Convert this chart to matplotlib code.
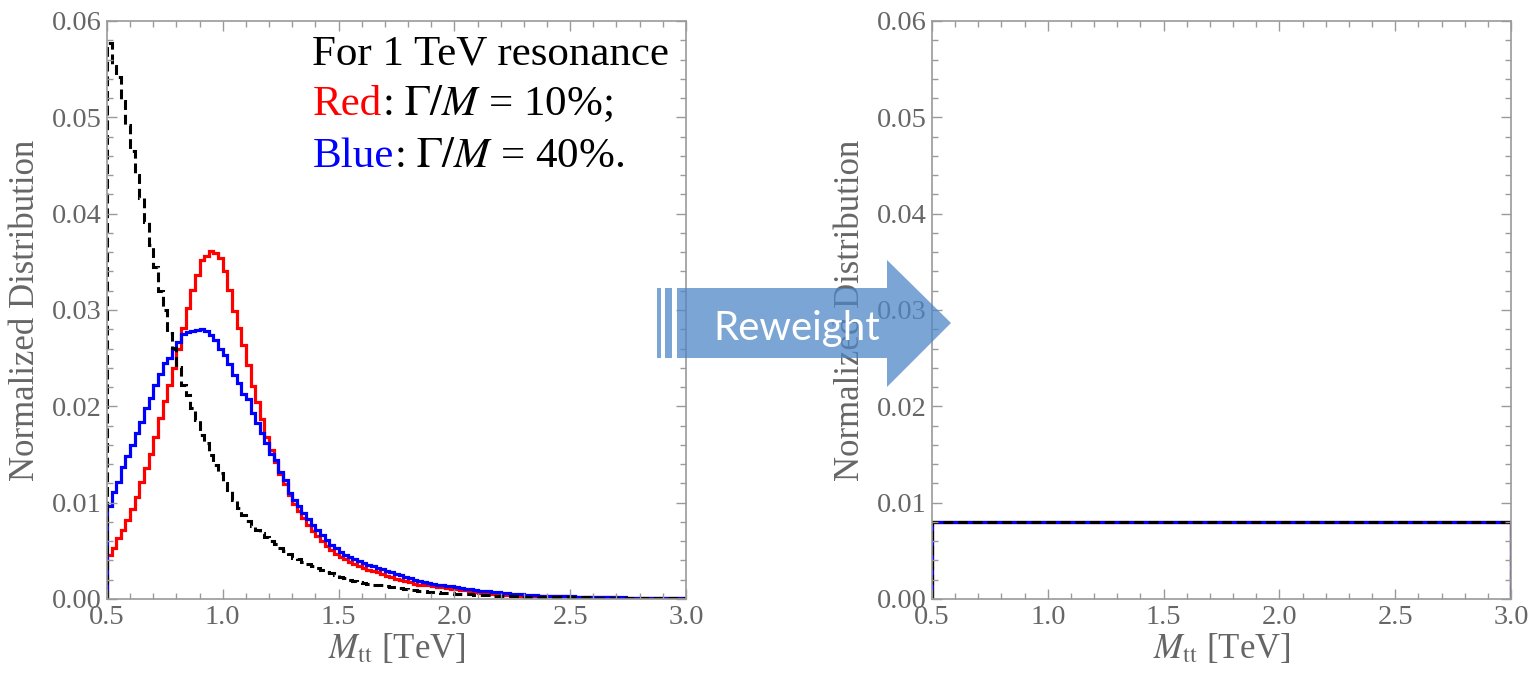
import numpy as np
import matplotlib.pyplot as plt
from matplotlib.patches import Polygon, Rectangle
from matplotlib.ticker import MultipleLocator, FormatStrFormatter

plt.rcParams['font.family'] = ['Liberation Serif', 'DejaVu Serif']
plt.rcParams['mathtext.fontset'] = 'stix'

# binning: 125 bins of 0.02 TeV between 0.5 and 3.0
m_lo, m_hi, n_bins = 0.5, 3.0, 125
edges = np.linspace(m_lo, m_hi, n_bins + 1)

# SM background (black dashed), normalized
sm_bkg = [
    0.0577, 0.0553, 0.0542, 0.0517, 0.0492, 0.0465, 0.0440, 0.0416, 0.0391, 0.0367,
    0.0345, 0.0320, 0.0300, 0.0276, 0.0261, 0.0241, 0.0222, 0.0212, 0.0198, 0.0186,
    0.0170, 0.0162, 0.0149, 0.0139, 0.0131, 0.0120, 0.0113, 0.0103, 0.0094, 0.0087,
    0.0081, 0.0076, 0.0072, 0.0068, 0.0064, 0.0060, 0.0057, 0.0053, 0.0050, 0.0047,
    0.0043, 0.0041, 0.0038, 0.0036, 0.0034, 0.0032, 0.0030, 0.0028, 0.0027, 0.0025,
    0.0023, 0.0022, 0.0020, 0.0019, 0.0018, 0.0017, 0.0016, 0.0015, 0.0014, 0.0014,
    0.0013, 0.0012, 0.0012, 0.0011, 0.0010, 0.0009, 0.0009, 0.0008, 0.0008, 0.0007,
    0.0007, 0.0007, 0.0006, 0.0006, 0.0006, 0.0005, 0.0005, 0.0005, 0.0005, 0.0004,
    0.0004, 0.0004, 0.0004, 0.0003, 0.0003, 0.0003, 0.0003, 0.0003, 0.0003, 0.0002,
    0.0002, 0.0002, 0.0002, 0.0002, 0.0002, 0.0002, 0.0002, 0.0002, 0.0002, 0.0002,
    0.0002, 0.0002, 0.0002, 0.0002, 0.0002, 0.0001, 0.0001, 0.0001, 0.0001, 0.0001,
    0.0001, 0.0001, 0.0001, 0.0001, 0.0001, 0.0001, 0.0001, 0.0001, 0.0001, 0.0001,
    0.0001, 0.0001, 0.0001, 0.0001, 0.0001,
]

# 1 TeV resonance, Gamma/M = 10% (red)
res_10 = [
    0.0046, 0.0053, 0.0063, 0.0072, 0.0082, 0.0093, 0.0106, 0.0121, 0.0136, 0.0151,
    0.0168, 0.0188, 0.0205, 0.0222, 0.0240, 0.0260, 0.0281, 0.0302, 0.0321, 0.0336,
    0.0352, 0.0356, 0.0361, 0.0359, 0.0354, 0.0340, 0.0321, 0.0299, 0.0281, 0.0264,
    0.0243, 0.0221, 0.0204, 0.0187, 0.0168, 0.0155, 0.0142, 0.0130, 0.0119, 0.0108,
    0.0099, 0.0091, 0.0084, 0.0077, 0.0071, 0.0065, 0.0060, 0.0055, 0.0051, 0.0047,
    0.0044, 0.0041, 0.0038, 0.0036, 0.0034, 0.0032, 0.0030, 0.0029, 0.0028, 0.0026,
    0.0024, 0.0023, 0.0021, 0.0020, 0.0019, 0.0018, 0.0016, 0.0015, 0.0014, 0.0014,
    0.0013, 0.0012, 0.0012, 0.0011, 0.0010, 0.0010, 0.0009, 0.0009, 0.0008, 0.0007,
    0.0006, 0.0006, 0.0006, 0.0005, 0.0005, 0.0005, 0.0004, 0.0004, 0.0004, 0.0003,
    0.0003, 0.0003, 0.0003, 0.0003, 0.0003, 0.0003, 0.0003, 0.0003, 0.0003, 0.0003,
    0.0002, 0.0002, 0.0002, 0.0002, 0.0002, 0.0002, 0.0002, 0.0002, 0.0002, 0.0002,
    0.0001, 0.0001, 0.0001, 0.0001, 0.0001, 0.0001, 0.0001, 0.0001, 0.0001, 0.0001,
    0.0001, 0.0001, 0.0001, 0.0001, 0.0001,
]

# 1 TeV resonance, Gamma/M = 40% (blue)
res_40 = [
    0.0097, 0.0111, 0.0121, 0.0137, 0.0148, 0.0160, 0.0172, 0.0184, 0.0198, 0.0209,
    0.0222, 0.0234, 0.0245, 0.0250, 0.0260, 0.0267, 0.0275, 0.0277, 0.0278, 0.0279,
    0.0280, 0.0278, 0.0274, 0.0269, 0.0260, 0.0253, 0.0244, 0.0232, 0.0224, 0.0213,
    0.0208, 0.0193, 0.0183, 0.0172, 0.0162, 0.0151, 0.0144, 0.0132, 0.0124, 0.0110,
    0.0103, 0.0096, 0.0089, 0.0083, 0.0077, 0.0072, 0.0066, 0.0061, 0.0056, 0.0053,
    0.0049, 0.0046, 0.0044, 0.0041, 0.0039, 0.0037, 0.0035, 0.0034, 0.0032, 0.0031,
    0.0029, 0.0028, 0.0026, 0.0025, 0.0023, 0.0022, 0.0020, 0.0019, 0.0018, 0.0017,
    0.0016, 0.0015, 0.0014, 0.0013, 0.0013, 0.0012, 0.0011, 0.0010, 0.0010, 0.0009,
    0.0008, 0.0008, 0.0008, 0.0007, 0.0007, 0.0006, 0.0006, 0.0005, 0.0005, 0.0005,
    0.0004, 0.0004, 0.0004, 0.0003, 0.0003, 0.0003, 0.0003, 0.0003, 0.0003, 0.0003,
    0.0003, 0.0002, 0.0002, 0.0002, 0.0002, 0.0002, 0.0002, 0.0002, 0.0002, 0.0002,
    0.0002, 0.0002, 0.0001, 0.0001, 0.0001, 0.0001, 0.0001, 0.0001, 0.0001, 0.0001,
    0.0001, 0.0001, 0.0001, 0.0001, 0.0001,
]

# after reweighting every sample is flat (1/125 per bin)
flat_level = 0.008
reweighted = np.full(n_bins, flat_level)

GRAY = '#666666'
SPINE = '#9a9a9a'

fig = plt.figure(figsize=(15.39, 6.73), dpi=100)
ax1 = fig.add_axes([0.0695, 0.110, 0.3762, 0.8588])
ax2 = fig.add_axes([0.6056, 0.110, 0.3762, 0.8588])


def style_axes(ax):
    ax.set_xlim(m_lo, m_hi)
    ax.set_ylim(0, 0.06)
    ax.xaxis.set_major_locator(MultipleLocator(0.5))
    ax.xaxis.set_minor_locator(MultipleLocator(0.1))
    ax.yaxis.set_major_locator(MultipleLocator(0.01))
    ax.yaxis.set_minor_locator(MultipleLocator(0.002))
    ax.xaxis.set_major_formatter(FormatStrFormatter('%.1f'))
    ax.yaxis.set_major_formatter(FormatStrFormatter('%.2f'))
    ax.tick_params(which='both', direction='in', top=True, right=True,
                   color=SPINE, labelcolor=GRAY, labelsize=20.5, width=1)
    ax.tick_params(which='major', length=7, pad=4)
    ax.tick_params(which='minor', length=4)
    for s in ax.spines.values():
        s.set_color(SPINE)
        s.set_linewidth(1.2)
    ax.set_ylabel('Normalized Distribution', color=GRAY, fontsize=25)
    ax.set_xlabel(r'$M_{\rm tt}$ [TeV]', color=GRAY, fontsize=25)
    ax.yaxis.set_label_coords(-0.113, 0.5)
    ax.xaxis.set_label_coords(0.5, -0.058)


style_axes(ax1)
style_axes(ax2)

ax1.stairs(res_10, edges, baseline=0, color='#ff0000', lw=2.3)
ax1.stairs(res_40, edges, baseline=0, color='#0000ff', lw=2.3)
ax1.stairs(sm_bkg, edges, baseline=0, color='black', lw=2.2,
           linestyle=(0, (3.2, 1.6)))

ax2.stairs(reweighted, edges, baseline=0, color='#ff0000', lw=2.3)
ax2.stairs(reweighted, edges, baseline=0, color='#0000ff', lw=2.3)
ax2.stairs(reweighted, edges, baseline=0, color='black', lw=2.2,
           linestyle=(0, (3.2, 1.6)))

# annotation in left panel
fs = 31
t0 = ax1.text(0.355, 0.924, 'For 1 TeV resonance', transform=ax1.transAxes,
              fontsize=fs, color='black', va='baseline')
t1 = ax1.text(0.355, 0.837, 'Red', transform=ax1.transAxes,
              fontsize=fs, color='#ff0000', va='baseline')
ax1.annotate(r': $\Gamma/M$ = 10%;', xy=(1, 0), xycoords=t1,
             fontsize=fs, color='black', va='bottom', ha='left')
t2 = ax1.text(0.355, 0.747, 'Blue', transform=ax1.transAxes,
              fontsize=fs, color='#0000ff', va='baseline')
ax1.annotate(r': $\Gamma/M$ = 40%.', xy=(1, 0), xycoords=t2,
             fontsize=fs, color='black', va='bottom', ha='left')

# "Reweight" arrow between the panels (figure pixels -> fraction)
W, H = 1539.0, 673.0


def fx(px):
    return px / W


def fy(py):
    return 1 - py / H


arrow_c = '#4f87c6'
shaft_top, shaft_bot = 288, 358
for x0, x1 in [(657, 661), (665, 672)]:
    fig.add_artist(Rectangle((fx(x0), fy(shaft_bot)), fx(x1) - fx(x0),
                             fy(shaft_top) - fy(shaft_bot),
                             transform=fig.transFigure, facecolor=arrow_c,
                             edgecolor='none', alpha=0.75))
body = [(677, shaft_top), (887, shaft_top), (887, 260), (951, 323),
        (887, 387), (887, shaft_bot), (677, shaft_bot)]
fig.add_artist(Polygon([(fx(x), fy(y)) for x, y in body], closed=True,
                       transform=fig.transFigure, facecolor=arrow_c,
                       edgecolor='none', alpha=0.75))
fig.text(fx(797), fy(328), 'Reweight', color='white', fontsize=29,
         family=['Lato', 'DejaVu Sans'], ha='center', va='center')

fig.savefig('out.png', dpi=100)
